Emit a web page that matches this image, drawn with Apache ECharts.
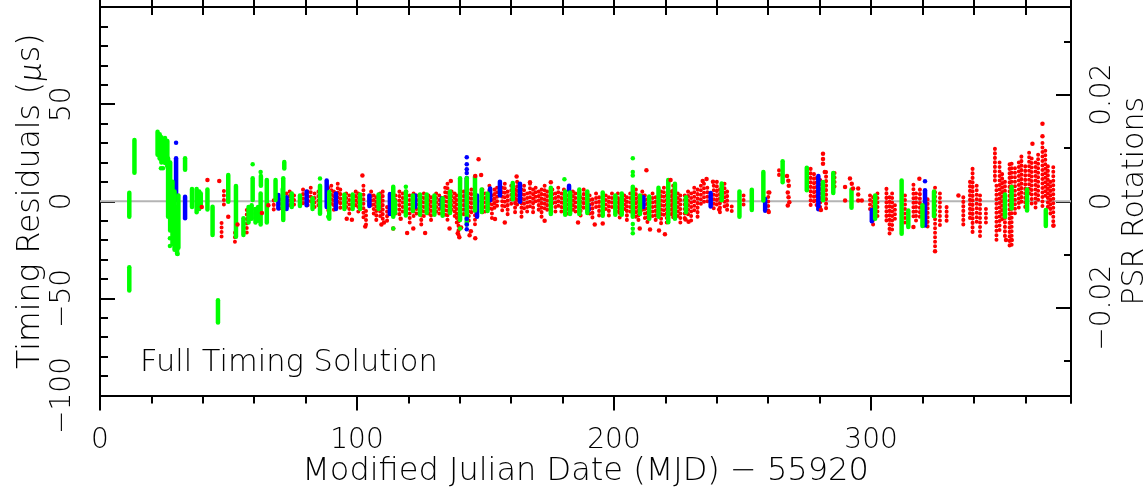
<!DOCTYPE html>
<html>
<head>
<meta charset="utf-8">
<script src="https://cdn.jsdelivr.net/npm/echarts@6/dist/echarts.min.js"></script>
<style>
  html, body { margin: 0; padding: 0; background: #fff; }
  #chart { width: 1148px; height: 488px; }
</style>
</head>
<body>
<div id="chart"></div>
<script>
// Days are MJD - 55920, residuals are in microseconds.
// A "column" is one observing session: [day, lowest residual, highest residual].
const redColumns = [
  [47.3,-18.3,-11.2],[48.2,-3,5.3],[52.5,-21.7,-16.2],[57.1,-16.5,-4.5],[60.5,-10,-4],[67.6,-6,0.5],[69.8,-5,1],
  [72.5,-4,4],[73.8,-3,5],[75.5,-2,3],[79,-1,6],[80.8,-3,5],[82,-1,7],[83.5,-3,4],[85,-2,5],
  [88.8,-5,7],[90,-3,8],[91,-6,5],[92.5,-2,9],[93.5,-5,6],[95.8,-4,4],[97,-7,3],[99.5,-3,5],[100.5,-6,4],
  [102.5,-9,8],[103.5,-13,-5],[105.5,-4,5],[106.5,-8,3],[107.5,-10,2],[109,-8,4],[110,-9,5],[111.7,-10,-3],[113,-4,3],[115,-8,3],[116.5,-7,5],
  [117.8,-6,4],[119.2,-8,5],[120.5,-12,3],[122,-9,4],[123.2,-7,3],[125,-14,2],[126,-9,4],[127.8,-7,3],[128.8,-10,2],[130.8,-6,4],[132,-8,3],[134.3,-7,7],[135.2,-10,9],[136.8,-6,5],[138,-8,4],
  [138.8,-12,3],[139.5,-18,-8],[141.5,-8,5],[143.5,-10,4],[144.5,-6,6],[145.9,-14,9],
  [148.8,-6,6],[149.8,-7,4],[151.5,-4,8],[152.5,-9,3],[153.5,-5,6],[154.5,-3,7],[156.5,-6,7],[157.5,-4,9],[158.6,-7,5],[160,-3,8],[161.5,-6,6],[162.3,-2,10],[164,-8,6],[165,-4,8],[166.2,-7,4],[167.3,-3,9],[168.5,-6,6],[169.5,-2,7],[170.7,-5,5],[171.8,-8,6],[173,-4,8],[174,-6,5],[176,-3,6],[177.2,-7,4],[178.3,-4,7],
  [179.5,-6,4],[180.5,-4,6],[182,-8,3],[184,-5,5],[185,-7,4],[187,-9,2],[188.2,-4,6],[190.5,-7,3],[191.6,-9,1],[193,-5,4],[194.2,-8,2],[196.8,-6,3],[198,-9,2],[199.2,-4,4],
  [201.5,-6,4],[202.2,-9,1],[204,-5,3],[205,-10,2],[206.3,-7,4],[208.5,-8,6],[209.5,-11,2],[211,-6,5],[212,-9,3],[213,-12,1],[215,-8,4],[216.2,-10,2],[218.3,-13,5],[219.4,-9,7],[220.5,-12,3],[222.3,-7,5],[223,-10,8],[224.8,-8,4],[225.8,-11,3],
  [227.5,-9,3],[228.8,-7,5],[230,-10,4],[231.2,-6,7],[232.5,-8,6],[233.8,-3,8],[235,-2,9],[236.3,-1,7],[238.8,-4,8],[240,-2,10],[241.2,-6,6],[243,-3,9],[244,-5,5],[245.8,-5.6,-2.7],
  [250.4,-3.7,3],[260,-5,4.5],[264.2,11.6,15.9],
  [276.5,-3.9,16.7],[277.8,-2,14],[278.8,-4,12],[280.2,-3,11],[282.5,-3.8,15],[285.8,7,14.6],
  [299.6,-5,3],[300.8,-12,2],[302.5,-9,4],[306,-12,6.4],[307.2,-17.6,2],[308.2,-15,4],[309.3,-10,-2],[313.2,-13,3],[316.5,-8,8.5],[317.5,-12,4],[319,-10,6],[322,-13,1],[324.9,-25,7],[326.8,-13,4],[329.4,-11,-3],
  [335.9,-12,2],[338.5,-10,10],[339.5,-17.6,16.7],[341.1,-12,8],[342.4,-18,3],[344.7,-12,-4],
  [348.2,10,27],[348.8,-20,8],[350,-15,20],[351,-10,14],[352.1,-18,10],[353.9,-24,19],[354.7,-23.6,19.3],[356,-8,17],[357.5,-5,20],[358.5,-2,23],[360,-3,18],[361.5,2,25],[362.5,-2,22],[364,-5,20],[365,0,24],[366.7,-3,30],[367.8,2,26],[368.8,-4,18],[369.8,-7,10],[370.9,-13.3,17.5]
];
const redPoints = [
  [39.6,-3],[41.8,10.9],[46.4,10.4],[49.9,-8],[53.5,-12],[63,-6],[65.5,-2],
  [96,-9],[98,-9.5],[102.1,13.3],[103.2,-13],[109.5,-12],[110.5,-11],[114.1,-14],[117,-9],
  [119.5,-16.4],[121.9,-14],[126.5,-16.4],[136,-14],[136.5,10.4],
  [139.2,-16.5],[139.8,-18.5],[140.5,-13.5],[143.8,-17.5],[144.3,-15.5],[146,-19],[147.3,21.6],[146,13],[148.3,13.5],
  [153.7,-9.2],[157.5,-11],[162.1,12.8],[167.3,9.8],[173,-10],[175.4,9.8],
  [186,-11],[192.5,-12],[195.6,-11.5],
  [210,-14],[212.6,16],[214,-14.5],[217.5,-15],[219.8,-17],[222,11],
  [227.8,-9.4],[229,-10.5],[234.5,10.4],[236,11.5],[238.5,10],[240.9,-4.2],[260.2,-5.5],[260.4,4.5],
  [267.3,13],[267.8,10.5],[268,8],[267.6,4.5],[267.9,2],[268.2,-0.5],[267.6,-2.2],
  [281.3,24.4],[281.3,21.8],[281.3,19.3],[280.5,-4.5],[282,15],
  [289.9,7.3],[289.9,0.4],[291.8,11.7],[292.5,9],[293,6.6],[295,6.6],[295,3.5],[295,0.4],[296.4,0.4],
  [316.5,-13.3],[318.8,11.6],[334,3],[324.9,-25.7],[352.5,-20],[354.7,-20],[362.8,29.6],[366.7,39.9],[366.7,33.5],[371,-12.5]
];
const greenColumns = [
  [11.4,-8,4.4],[11.4,-46,-34],[13.4,14.7,31.5],
  [22.4,24,35.8],[23.2,22,34.5],[23.9,20,33],[25.3,19.7,32.5],[26.2,18,31],
  [26.5,-8,22],[27.3,-15,20],[28.2,-22,10],[29,-25,5],[30,-27,-3],[30.5,-24,3],
  [33.1,16.2,22.2],[35.8,-3,6.3],[37.6,-5.6,6.3],[38.6,-4,5],[39.2,-3,4],[41.8,-4.3,6],[43.8,-17.4,-2.8],[45.9,-62.4,-51],
  [49.9,-0.3,13.5],[52.9,-18.3,7.8],[55.8,-17.4,-8.8],[57.8,-11,-3],[59,-9,-2],[59.4,0.6,11.9],[60.5,-11,-4],[61.5,-10,-3],[62.5,-12,4],[62.6,8,13],[64.9,-11,11],[68.3,0.6,11],[71.7,16.8,20.2],[71.3,-9.6,11.9],
  [71.1,-3.7,6.3],[74.6,-3,4],[77.8,-2.5,3],[82.7,-4,1.5],[85.6,-6.4,8],[89.2,-9,4.7],[95.1,-4,3.5],[98.3,-4,3.5],[101.2,-4,3.5],[108.4,-4,3.5],[114.1,-8,7.5],[114.8,-6,0],[119,-7.3,5],[121.7,-5,3],[124.5,-7,3.5],[127.1,-6,3.5],[130.1,-7,3],[133.3,-7.5,1.5],[136.2,-6,5],[140.1,-9.7,11.8],[142.7,-12,11.8],[145.9,-4.7,12.6],[148.5,-5.5,6],[150.8,-5,4],[160.6,1,9.4],[175.4,-6.5,7],[181,-7,5],[182.9,-6.5,4.5],[186.5,-6.5,6],[189.6,-6,5],[195.6,-7.5,4.5],[200.5,-7,3],[203,-7,4],[207.3,-8,7.5],[210.1,-6.5,3],[213.7,-9,2.5],[217.3,-8,7],[221.1,-10.8,10.9],[223.7,-9,9],
  [228,-5.6,2],[241.9,0.5,9.1],[248.8,-8,5],[253.6,-4.5,5.9],[258.1,0.4,15],[265.6,9.8,20.6],[275,5.6,17.2],[281.3,0.5,9.9],[285.3,4.2,14.6],[292.4,-3.3,6],[301.6,-9,2.9],[311.9,-16.7,10.7],[314.5,-13.3,-4.7],[320,-12.8,-2],[324.5,-7.7,5],[352.1,-8,3.5],[354.7,-3.7,7.4],[360.7,-4.8,6],[368,-12.8,-4.5]
];
const greenPoints = [
  [24.5,17],[23.7,17],[27.2,-19],[27.2,-23],[28.5,-21],[30.2,-27.2],[59.4,19.1],[62.5,15],[85.6,11.7],[88.8,-8],
  [114.1,-14],[119,7.5],[180.7,11.3],[207.3,22.1],[207.3,15],[207.3,13.3],[207.3,-11.7],[207.3,-14.2],[207.3,-16.5],[140.1,-14]
];
const blueColumns = [
  [29.6,0.6,22.2],[33.1,-8.8,2.3],[69.4,-3.7,3.2],[72.6,-4,2],[80.4,-2,5],[88.2,-3,10.7],[91.8,-4,4],[104.8,-2.5,3],[112.8,-6.5,3.7],[122.6,-3,3],[133,-3,1.5],
  [142.7,-5,12],[146.7,-8,3],[151.8,0.5,6.6],[155.6,3,10],[163.4,-0.3,9],[182.5,5.6,8],[190,-4.6,-2],[211.4,-3,2],[237.6,-2.7,4.2],[258.8,-4.9,1.2],[279.5,-4.1,13],[300.3,-10.3,-4.5],[321,-12.5,5.6]
];
const bluePoints = [
  [29.6,30.1],[142.7,22.6],[142.7,19],[142.7,16.5],[142.7,14.5],[142.7,-9],[142.7,-12],[142.7,-14.4],[321,10.3]
];

// Axis ticks and labels
const dayRange = [0, 377.8];
const dayMajor = [0, 100, 200, 300];
const dayMinor = [20, 40, 60, 80, 120, 140, 160, 180, 220, 240, 260, 280, 320, 340, 360];
const dayAll = [0, 20, 40, 60, 80, 100, 120, 140, 160, 180, 200, 220, 240, 260, 280, 300, 320, 340, 360];
const residualRange = [-100, 100];
const rotationMax = 0.03646;          // 100 us at a 2.743 ms spin period
const rotationMajor = [-0.02, 0, 0.02];
const rotationMinor = [-0.03, -0.01, 0.01, 0.03];
// Reference line at zero residual, across the whole day range
const zeroLine = [[dayRange[0], 0], [dayRange[1], 0]];

const FONT = "'DejaVu Sans'";
const txt = { fontFamily: FONT, fontWeight: 200, fontSize: 28, color: '#000' };
const nameTxt = Object.assign({}, txt, { fontSize: 30 });
const black = { color: '#000', width: 2 };
const frameLine = { show: true, onZero: false, lineStyle: black };
const minus = v => (v < 0 ? '\u2212' + String(Math.abs(v)) : String(v));

function columnRenderer(width, dash) {
  return function (params, api) {
    const top = api.coord([api.value(0), api.value(2)]);
    const bottom = api.coord([api.value(0), api.value(1)]);
    return {
      type: 'line',
      shape: { x1: top[0], y1: top[1], x2: bottom[0], y2: bottom[1] },
      style: { stroke: api.visual('color'), lineWidth: width, lineCap: 'round', lineDash: dash }
    };
  };
}
function columns(data, color, width, dash) {
  return {
    type: 'custom', xAxisIndex: 0, yAxisIndex: 0, data: data, clip: true,
    encode: { x: 0, y: [1, 2] }, itemStyle: { color: color },
    renderItem: columnRenderer(width, dash), silent: true
  };
}
function points(data, color) {
  return {
    type: 'scatter', xAxisIndex: 0, yAxisIndex: 0, data: data, symbolSize: 4.5,
    itemStyle: { color: color, opacity: 1 }, silent: true, clip: true
  };
}
const plainAxis = { axisTick: { show: false }, axisLabel: { show: false }, splitLine: { show: false } };

const chart = echarts.init(document.getElementById('chart'), null, { renderer: 'canvas' });
chart.setOption({
  animation: false,
  backgroundColor: '#fff',
  title: {
    text: 'Full Timing Solution', left: 135, top: 343,
    textStyle: Object.assign({}, nameTxt, { fontSize: 30.5 })
  },
  grid: [
    { left: 100, top: 7, width: 971, height: 388.5, outerBoundsMode: 'none' },
    { left: 100, top: 0, width: 971, height: 7, outerBoundsMode: 'none' },
    { left: 100, top: 395.5, width: 971, height: 7.5, outerBoundsMode: 'none' }
  ],
  xAxis: [
    {
      gridIndex: 0, type: 'value', position: 'bottom', min: dayRange[0], max: dayRange[1],
      axisLine: frameLine,
      axisTick: { show: true, customValues: dayMajor, length: 15, lineStyle: black },
      axisLabel: { customValues: dayMajor, margin: 31, ...txt },
      splitLine: { show: false },
      name: 'Modified Julian Date (MJD) \u2212 55920', nameLocation: 'middle', nameGap: 60,
      nameMoveOverlap: false,
      nameTextStyle: Object.assign({}, nameTxt, { fontSize: 32 })
    },
    {
      gridIndex: 0, type: 'value', position: 'bottom', min: dayRange[0], max: dayRange[1],
      axisLine: { show: false, onZero: false },
      axisTick: { show: true, customValues: dayMinor, length: 8, lineStyle: black },
      axisLabel: { show: false }, splitLine: { show: false }
    },
    {
      gridIndex: 0, type: 'value', position: 'top', min: dayRange[0], max: dayRange[1],
      axisLine: frameLine,
      axisTick: { show: true, inside: true, customValues: dayAll, length: 8, lineStyle: black },
      axisLabel: { show: false }, splitLine: { show: false }
    },
    {
      gridIndex: 1, type: 'value', position: 'bottom', min: dayRange[0], max: dayRange[1],
      axisLine: frameLine,
      axisTick: { show: true, inside: true, customValues: dayAll, length: 7, lineStyle: black },
      axisLabel: { show: false }, splitLine: { show: false }
    },
    {
      gridIndex: 2, type: 'value', min: dayRange[0], max: dayRange[1], show: false
    }
  ],
  yAxis: [
    {
      gridIndex: 0, type: 'value', position: 'left', min: residualRange[0], max: residualRange[1], interval: 50,
      axisLine: frameLine,
      axisTick: { show: true, inside: true, length: 15, lineStyle: black },
      minorTick: { show: true, splitNumber: 5, length: 8, lineStyle: black },
      axisLabel: { rotate: 90, margin: 23, showMaxLabel: false, formatter: minus, ...txt },
      splitLine: { show: false },
      name: '{a|Timing Residuals (}{i|\u00b5}{a|s)}', nameLocation: 'middle', nameGap: 53, nameRotate: 90,
      nameMoveOverlap: false,
      nameTextStyle: Object.assign({}, nameTxt, {
        fontSize: 31.5,
        rich: {
          a: Object.assign({}, nameTxt, { fontSize: 31.5 }),
          i: Object.assign({}, nameTxt, { fontFamily: 'Lato', fontWeight: 300, fontStyle: 'italic', fontSize: 33 })
        }
      })
    },
    {
      gridIndex: 0, type: 'value', position: 'right', min: -rotationMax, max: rotationMax,
      axisLine: frameLine,
      axisTick: { show: true, inside: true, customValues: rotationMajor, length: 15, lineStyle: black },
      axisLabel: { customValues: rotationMajor, rotate: 90, margin: 18, formatter: minus, ...txt },
      splitLine: { show: false },
      name: 'PSR Rotations', nameLocation: 'middle', nameGap: 49, nameRotate: 90,
      nameMoveOverlap: false,
      nameTextStyle: nameTxt
    },
    {
      gridIndex: 0, type: 'value', position: 'right', min: -rotationMax, max: rotationMax,
      axisLine: { show: false, onZero: false },
      axisTick: { show: true, inside: true, customValues: rotationMinor, length: 7, lineStyle: black },
      axisLabel: { show: false }, splitLine: { show: false }
    },
    Object.assign({ gridIndex: 1, type: 'value', position: 'left', min: 0, max: 1, axisLine: frameLine }, plainAxis),
    Object.assign({ gridIndex: 1, type: 'value', position: 'right', min: 0, max: 1, axisLine: frameLine }, plainAxis),
    Object.assign({ gridIndex: 2, type: 'value', position: 'right', min: 0, max: 1, axisLine: frameLine }, plainAxis)
  ],
  series: [
    {
      type: 'line', xAxisIndex: 0, yAxisIndex: 0, data: zeroLine, z: 1, silent: true,
      symbol: 'none', lineStyle: { color: '#b4b4b4', width: 2 }
    },
    columns(redColumns, '#ff0000', 4, [0.1, 4.4]),
    points(redPoints, '#ff0000'),
    columns(blueColumns, '#0000ff', 4.5, null),
    points(bluePoints, '#0000ff'),
    columns(greenColumns, '#00ff00', 4.5, null),
    points(greenPoints, '#00ff00')
  ]
});
</script>
</body>
</html>
